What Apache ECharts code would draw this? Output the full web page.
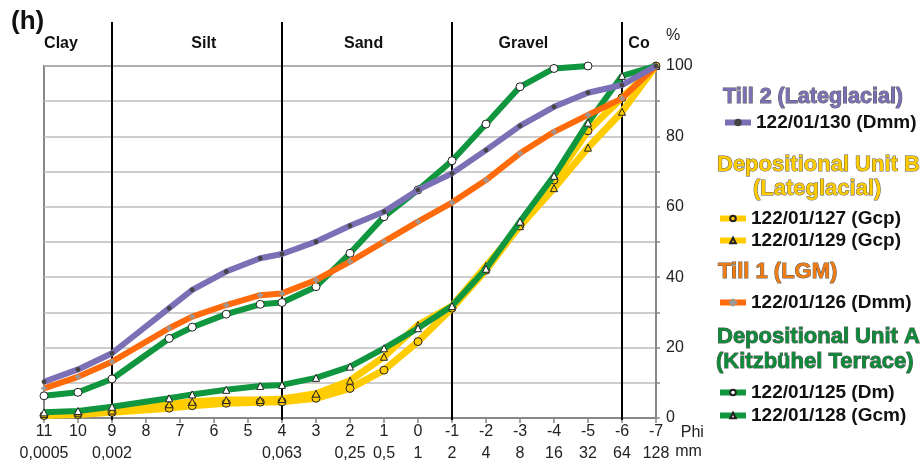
<!DOCTYPE html>
<html lang="en">
<head>
    <meta charset="UTF-8">
    <title>Grain size distribution (h)</title>
    <script src="https://cdn.jsdelivr.net/npm/echarts@6/dist/echarts.min.js"></script>
</head>
<body style="margin: 0; background: #fff">
<div id="chart" style="width: 920px; height: 464px"></div>

<script>
    // phi classes of the sieve / pipette fractions (0.0063, 0.01, 0.02, 0.04 mm are not integer phi)
    let phi = [11, 10, 9, 7.32, 6.64, 5.64, 4.64, 4, 3, 2, 1, 0, -1, -2, -3, -4, -5, -6, -7];

    // cumulative % per sample
    let till2_130 = [10.3, 13.8, 18.4, 31.2, 36.4, 41.6, 45.4, 46.6, 50.1, 54.6, 58.6, 64.8, 69.5, 76.1, 83.0, 88.4, 92.4, 94.6, 100];
    let unitB_127 = [0.7, 1.0, 1.6, 2.8, 3.5, 4.2, 4.5, 4.6, 5.6, 8.4, 13.6, 21.7, 31.2, 42.0, 54.8, 67.6, 81.6, 91.0, 100];
    let unitB_129 = [1.1, 1.5, 2.1, 3.9, 4.6, 5.1, 5.1, 5.4, 6.9, 10.6, 17.4, 26.4, 31.8, 43.2, 54.5, 65.3, 76.8, 87.0, 100];
    let till1_126 = [8.4, 11.7, 16.0, 25.5, 28.8, 32.1, 34.9, 35.4, 39.2, 44.4, 50.1, 55.8, 61.2, 67.6, 75.2, 81.3, 86.1, 90.8, 100];
    let unitA_125 = [6.3, 7.3, 11.1, 22.6, 25.8, 29.5, 32.3, 32.8, 37.3, 46.8, 57.2, 64.8, 73.1, 83.5, 94.1, 99.3, 100];
    let unitA_128 = [1.6, 2.0, 3.2, 5.6, 6.7, 8.0, 9.1, 9.4, 11.4, 14.6, 19.8, 25.5, 31.8, 42.4, 55.8, 68.8, 83.9, 97.2, 100];

    // class boundaries and class names
    let boundaries = [9, 4, -1, -6];
    let classNames = ['Clay', 'Silt', 'Sand', 'Gravel', 'Co'];
    let classCenters = [10.5, 6.3, 1.6, -3.1, -6.5];

    // second row of the x axis (grain size in mm)
    let mmLabels = {'11': '0,0005', '9': '0,002', '4': '0,063', '2': '0,25', '1': '0,5', '0': '1',
        '-1': '2', '-2': '4', '-3': '8', '-4': '16', '-5': '32', '-6': '64', '-7': '128'};

    let font = 'Liberation Sans, Arial, sans-serif';
    let PURPLE = '#7b70b6', YELLOW = '#ffcc00', ORANGE = '#ff6a0a', GREEN = '#0f963f';

    function pairs(vals) {
        return vals.map(function (v, i) { return [phi[i], v]; });
    }

    function lineSeries(name, vals, color, width, symbol, size, fill, border, z) {
        return {
            name: name, type: 'line', data: pairs(vals), z: z,
            symbol: symbol, symbolSize: size,
            lineStyle: {color: color, width: width},
            itemStyle: {color: fill, borderColor: border, borderWidth: 1},
            emphasis: {disabled: true}
        };
    }

    let plusPath = 'path://M3,0h2v3h3v2h-3v3h-2v-3h-3v-2h3z';

    let series = [
        lineSeries('122/01/127 (Gcp)', unitB_127, YELLOW, 7, 'circle', 8, YELLOW, '#222', 3),
        lineSeries('122/01/129 (Gcp)', unitB_129, YELLOW, 7, 'triangle', 7, YELLOW, '#222', 3),
        lineSeries('122/01/125 (Dm)', unitA_125, GREEN, 6, 'circle', 8, '#fff', '#222', 4),
        lineSeries('122/01/128 (Gcm)', unitA_128, GREEN, 6, 'triangle', 7, '#fff', '#222', 4),
        lineSeries('122/01/126 (Dmm)', till1_126, ORANGE, 6, plusPath, 5, '#9a9a9a', '#9a9a9a', 5),
        lineSeries('122/01/130 (Dmm)', till2_130, PURPLE, 6, 'circle', 4, '#444', '#444', 6),
        {
            // class boundary lines, reaching above the plot
            type: 'custom', z: 1, clip: false, silent: true,
            data: boundaries.map(function (b) { return [b, 0]; }),
            encode: {x: 0, y: 1},
            renderItem: function (params, api) {
                let top = api.coord([api.value(0), 100]);
                let bot = api.coord([api.value(0), 0]);
                return {type: 'line', shape: {x1: top[0], y1: top[1] - 44, x2: bot[0], y2: bot[1] + 2},
                    style: {stroke: '#000', lineWidth: 2}};
            }
        },
        {
            // class names above the plot
            type: 'custom', z: 1, clip: false, silent: true,
            data: classCenters.map(function (c, i) { return [c, 100, i]; }),
            encode: {x: 0, y: 1},
            renderItem: function (params, api) {
                let p = api.coord([api.value(0), 100]);
                return {type: 'text', x: p[0], y: p[1] - 22,
                    style: {text: classNames[api.value(2)], font: 'bold 16px ' + font, fill: '#111',
                        align: 'center', verticalAlign: 'middle'}};
            }
        }
    ];

    function legend(names, left, top, gap) {
        return {
            data: names, left: left, top: top, orient: 'vertical', padding: 0,
            itemWidth: 26, itemHeight: 7, itemGap: gap, selectedMode: false,
            lineStyle: {width: 6},
            textStyle: {fontFamily: font, fontWeight: 'bold', fontSize: 19, color: '#111'}
        };
    }

    function heading(text, x, y, fill, size) {
        return {type: 'text', x: x, y: y, silent: true,
            style: {text: text, font: 'bold ' + size + 'px ' + font, fill: fill, stroke: 'rgba(30,30,30,0.75)',
                lineWidth: 1, verticalAlign: 'middle'}};
    }

    let nameStyle = {fontFamily: font, fontSize: 16, color: '#222', align: 'left', verticalAlign: 'top'};

    let option = {
        animation: false,
        title: {text: '(h)', left: 6, top: 4, textStyle: {fontFamily: font, fontSize: 26, fontWeight: 'bold', color: '#111'}},
        grid: {left: 44, right: 264, top: 66, bottom: 46, show: true, borderColor: '#888', borderWidth: 2},
        xAxis: [{
            type: 'value', inverse: true, min: -7, max: 11, interval: 1,
            name: 'Phi', nameLocation: 'start', nameGap: 9,
            nameTextStyle: Object.assign({padding: [7, 0, 0, 0]}, nameStyle),
            axisLine: {onZero: false, lineStyle: {color: '#888', width: 2}},
            axisTick: {show: true, length: 5, lineStyle: {color: '#888', width: 1.5}},
            axisLabel: {fontFamily: font, fontSize: 16, color: '#222', margin: 6},
            splitLine: {show: false}
        }, {
            type: 'value', inverse: true, min: -7, max: 11, interval: 1, position: 'bottom', offset: 22,
            name: 'mm', nameLocation: 'start', nameGap: 9,
            nameTextStyle: Object.assign({padding: [4, 0, 0, 0]}, nameStyle),
            axisLine: {show: false, onZero: false}, axisTick: {show: false}, splitLine: {show: false},
            axisLabel: {fontFamily: font, fontSize: 16, color: '#222', margin: 6,
                formatter: function (v) { return mmLabels[String(v)] || ''; }}
        }],
        yAxis: {
            type: 'value', position: 'right', min: 0, max: 100, interval: 10,
            name: '%', nameLocation: 'end', nameGap: 22,
            nameTextStyle: {fontFamily: font, fontSize: 16, color: '#222', align: 'left', padding: [0, 0, 0, 10]},
            axisLine: {show: true, onZero: false, lineStyle: {color: '#888', width: 2}},
            axisTick: {show: true, length: 4, lineStyle: {color: '#888', width: 1.5}},
            axisLabel: {fontFamily: font, fontSize: 16, color: '#222', margin: 10,
                formatter: function (v) { return v % 20 === 0 ? String(v) : ''; }},
            splitLine: {show: true, lineStyle: {color: '#bdbdbd', width: 1.5}}
        },
        legend: [
            legend(['122/01/130 (Dmm)'], 722, 113, 3),
            legend(['122/01/127 (Gcp)', '122/01/129 (Gcp)'], 717, 209, 3),
            legend(['122/01/126 (Dmm)'], 717, 293, 3),
            legend(['122/01/125 (Dm)', '122/01/128 (Gcm)'], 717, 383, 4)
        ],
        graphic: [
            heading('Till 2 (Lateglacial)', 723, 97, PURPLE, 21.5),
            heading('Depositional Unit B', 717, 165, YELLOW, 22),
            heading('(Lateglacial)', 753, 189, YELLOW, 22),
            heading('Till 1 (LGM)', 718, 272, '#f07c12', 22),
            heading('Depositional Unit A', 717, 337, '#0e8a3a', 22),
            heading('(Kitzbühel Terrace)', 716, 362, '#0e8a3a', 22)
        ],
        series: series
    };

    let myChart = echarts.init(document.getElementById('chart'), null, {renderer: 'canvas'});
    myChart.setOption(option);
</script>
</body>
</html>
